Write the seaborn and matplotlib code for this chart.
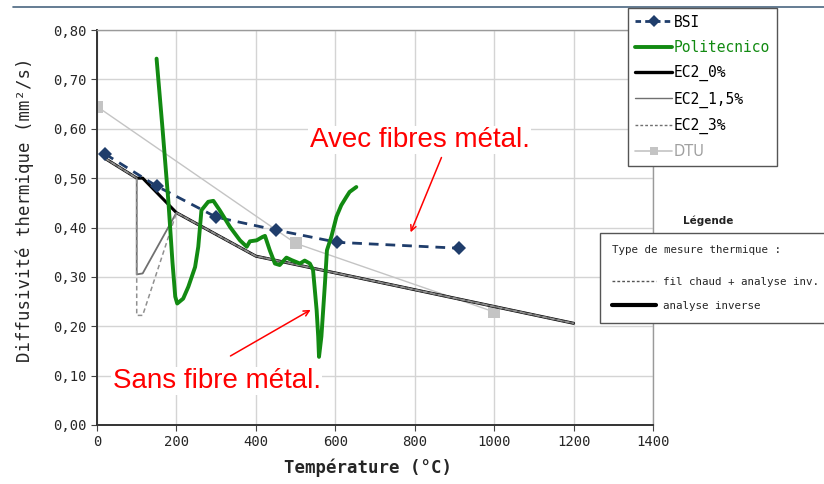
import numpy as np
import pandas as pd
import matplotlib.pyplot as plt
import matplotlib.ticker as mticker
from matplotlib.lines import Line2D
import seaborn as sns

# data
bsi_t = [20, 150, 300, 450, 605, 912]
bsi_d = [0.549, 0.484, 0.421, 0.395, 0.370, 0.358]

poli_t = [150, 165, 180, 190, 197, 202, 217, 230, 247, 255, 263, 280, 293, 309, 335, 360, 377,
          385, 402, 417, 423, 435, 448, 460, 477, 490, 511, 523, 536, 544, 553, 557, 559,
          565, 574, 579, 590, 603, 615, 628, 636, 653]
poli_d = [0.742, 0.60, 0.45, 0.33, 0.26, 0.246, 0.256, 0.28, 0.32, 0.361, 0.435, 0.452, 0.454,
          0.435, 0.401, 0.374, 0.361, 0.372, 0.374, 0.381, 0.383, 0.354, 0.327, 0.324, 0.339,
          0.334, 0.327, 0.333, 0.327, 0.314, 0.233, 0.179, 0.138, 0.179, 0.287, 0.354, 0.381,
          0.422, 0.445, 0.462, 0.472, 0.482]

ec2_0_t = [20, 100, 115, 200, 400, 1200]
ec2_0_d = [0.540, 0.500, 0.500, 0.430, 0.342, 0.206]

ec2_15_t = [20, 100, 100, 115, 200, 400, 1200]
ec2_15_d = [0.540, 0.500, 0.305, 0.307, 0.430, 0.342, 0.206]

ec2_3_t = [20, 100, 100, 115, 200, 400, 1200]
ec2_3_d = [0.540, 0.500, 0.222, 0.222, 0.430, 0.342, 0.206]

dtu_t = [0, 500, 1000]
dtu_d = [0.645, 0.368, 0.229]

navy = "#1f3d6b"
green = "#128a12"
grey = "#707070"
light = "#c4c4c4"
mono = "DejaVu Sans Mono"

sns.set_style("white")
fig = plt.figure(figsize=(8.24, 4.84), dpi=100)
ax = fig.add_axes([97 / 824, 1 - 425 / 484, 556 / 824, 395 / 484])

def series(t, d):
    return pd.DataFrame({"t": t, "d": d})

sns.lineplot(data=series(dtu_t, dtu_d), x="t", y="d", ax=ax, sort=False, estimator=None,
             color=light, lw=1.0, marker="s", markersize=8, markeredgewidth=0, zorder=2)
sns.lineplot(data=series(ec2_0_t, ec2_0_d), x="t", y="d", ax=ax, sort=False, estimator=None,
             color="black", lw=2.2, zorder=3)
sns.lineplot(data=series(ec2_15_t, ec2_15_d), x="t", y="d", ax=ax, sort=False, estimator=None,
             color=grey, lw=1.3, zorder=4)
sns.lineplot(data=series(ec2_3_t, ec2_3_d), x="t", y="d", ax=ax, sort=False, estimator=None,
             color="#909090", lw=1.1, linestyle=(0, (3, 2)), zorder=4)
sns.lineplot(data=series(bsi_t, bsi_d), x="t", y="d", ax=ax, sort=False, estimator=None,
             color=navy, lw=2.0, linestyle=(0, (3.5, 2.5)), marker="D", markersize=7,
             markeredgewidth=0, zorder=5)
sns.lineplot(data=series(poli_t, poli_d), x="t", y="d", ax=ax, sort=False, estimator=None,
             color=green, lw=2.8, zorder=6)

ax.set_xlim(0, 1400)
ax.set_ylim(0, 0.8)
ax.set_xticks(np.arange(0, 1401, 200))
ax.set_yticks(np.arange(0, 0.81, 0.1))
ax.yaxis.set_major_formatter(mticker.FuncFormatter(lambda v, p: f"{v:.2f}".replace(".", ",")))
ax.grid(True, color="#d4d4d4", lw=1.0)
ax.set_axisbelow(True)
for lab in ax.get_xticklabels() + ax.get_yticklabels():
    lab.set_family(mono)
    lab.set_fontsize(10)
ax.tick_params(axis="both", length=4, color="#444444", direction="out", bottom=True, left=True)
for side in ["left", "bottom"]:
    ax.spines[side].set_color("#333333")
    ax.spines[side].set_linewidth(1.4)
for side in ["top", "right"]:
    ax.spines[side].set_color("#9a9a9a")
    ax.spines[side].set_linewidth(1.0)

ax.set_xlabel("Température (°C)", family=mono, fontsize=12.5, fontweight="bold")
ax.set_ylabel("Diffusivité thermique (mm²/s)", family=mono, fontsize=12.5)
ax.xaxis.set_label_coords(0.487, -0.085)
ax.yaxis.set_label_coords(-0.113, 0.544)

# red annotations
box = dict(facecolor="white", edgecolor="none", pad=1)
ax.text(536, 0.577, "Avec fibres métal.", color="red", fontsize=20, family="Liberation Sans",
        va="center", ha="left", bbox=box, zorder=7)
ax.text(40, 0.089, "Sans fibre métal.", color="red", fontsize=20, family="Liberation Sans",
        va="center", ha="left", bbox=box, zorder=7)
ax.annotate("", xy=(787, 0.385), xytext=(870, 0.547),
            arrowprops=dict(arrowstyle="->", color="red", lw=1.1), zorder=7)
ax.annotate("", xy=(544, 0.236), xytext=(330, 0.137),
            arrowprops=dict(arrowstyle="->", color="red", lw=1.1), zorder=7)

# series legend
handles = [
    Line2D([], [], color=navy, lw=2, linestyle=(0, (2, 1.5)), marker="D", markersize=6, markeredgewidth=0),
    Line2D([], [], color=green, lw=2.8),
    Line2D([], [], color="black", lw=2.4),
    Line2D([], [], color=grey, lw=1.0),
    Line2D([], [], color=grey, lw=1.0, linestyle=(0, (2, 1.5))),
    Line2D([], [], color=light, lw=1.2, marker="s", markersize=6, markeredgewidth=0),
]
labels = ["BSI", "Politecnico", "EC2_0%", "EC2_1,5%", "EC2_3%", "DTU"]
leg = fig.legend(handles, labels, loc="upper left", bbox_to_anchor=(628 / 824, 1 - 8 / 484),
                 prop={"family": mono, "size": 10.5}, frameon=True, fancybox=False,
                 edgecolor="#555555", framealpha=1, handlelength=2.6, handletextpad=0.1,
                 labelspacing=0.7, borderpad=0.45, borderaxespad=0)
leg.get_frame().set_linewidth(1.0)
for txt, c in zip(leg.get_texts(), ["black", green, "black", "black", "black", "#a0a0a0"]):
    txt.set_color(c)
leg.get_texts()[-1].set_family("DejaVu Sans")

# measurement type legend
fig.text(683 / 824, 1 - 221 / 484, "Légende", family="DejaVu Sans", fontsize=7.5,
         fontweight="bold", va="center", color="#222222")
h2 = [Line2D([], [], color="#555555", lw=1.0, linestyle=(0, (2, 1.5))),
      Line2D([], [], color="black", lw=3)]
leg2 = fig.legend(h2, ["fil chaud + analyse inv.", "analyse inverse"], loc="upper left",
                  bbox_to_anchor=(600 / 824, 1 - 233 / 484), title="Type de mesure thermique :",
                  alignment="left", prop={"family": mono, "size": 7.8},
                  title_fontproperties={"family": mono, "size": 7.8}, frameon=True, fancybox=False,
                  edgecolor="#555555", framealpha=1, handlelength=4.1, handletextpad=0.6,
                  labelspacing=1.3, borderpad=1.1, borderaxespad=0)
leg2.get_frame().set_linewidth(1.0)
leg2._legend_box.sep = 16

# slide header rule
fig.add_artist(Line2D([13 / 824, 1], [1 - 7 / 484, 1 - 7 / 484], color="#4a6680", lw=1.2))

fig.savefig("out.png", dpi=100)
